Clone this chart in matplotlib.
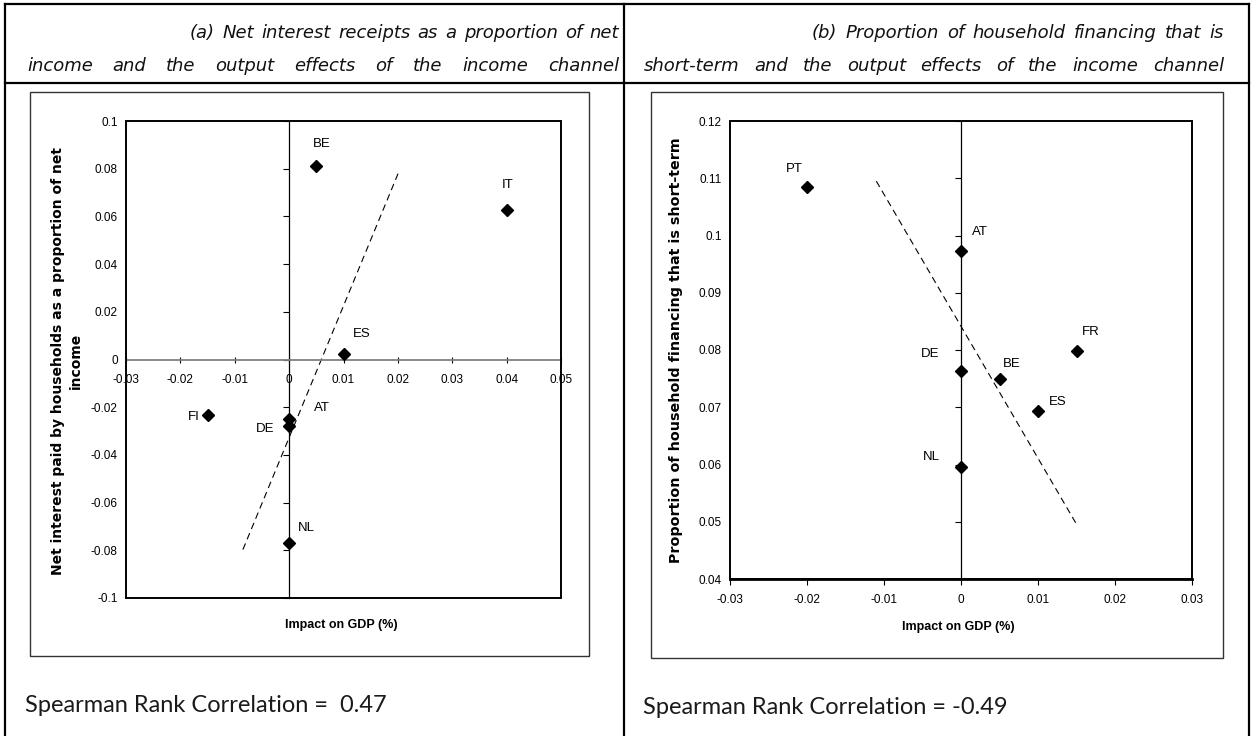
import matplotlib  # nopep8
matplotlib.use('Agg')  # nopep8
import matplotlib.pyplot as plt
from matplotlib.patches import Rectangle
from matplotlib.lines import Line2D

W, H = 1253, 736

# panel (a): net interest receipts vs impact on GDP
countries_a = ['BE', 'IT', 'ES', 'AT', 'DE', 'FI', 'NL']
gdp_a = [0.005, 0.040, 0.010, 0.0, 0.0, -0.015, 0.0]
interest_a = [0.081, 0.0625, 0.0025, -0.025, -0.028, -0.0234, -0.077]
trend_a_x = [-0.0085, 0.0201]
trend_a_y = [-0.0797, 0.0783]
xticks_a = [-0.03, -0.02, -0.01, 0, 0.01, 0.02, 0.03, 0.04, 0.05]
xlabels_a = ['-0.03', '-0.02', '-0.01', '0', '0.01', '0.02', '0.03', '0.04', '0.05']
yticks_a = [-0.1, -0.08, -0.06, -0.04, -0.02, 0, 0.02, 0.04, 0.06, 0.08, 0.1]
ylabels_a = ['-0.1', '-0.08', '-0.06', '-0.04', '-0.02', '0', '0.02', '0.04', '0.06', '0.08', '0.1']

# panel (b): short-term share of household financing vs impact on GDP
countries_b = ['PT', 'AT', 'FR', 'DE', 'BE', 'ES', 'NL']
gdp_b = [-0.020, 0.0, 0.015, 0.0, 0.005, 0.010, 0.0]
shortterm_b = [0.1084, 0.0973, 0.0798, 0.0763, 0.0750, 0.0694, 0.0596]
trend_b_x = [-0.011, 0.0149]
trend_b_y = [0.1095, 0.0498]
xticks_b = [-0.03, -0.02, -0.01, 0, 0.01, 0.02, 0.03]
xlabels_b = ['-0.03', '-0.02', '-0.01', '0', '0.01', '0.02', '0.03']
yticks_b = [0.04, 0.05, 0.06, 0.07, 0.08, 0.09, 0.1, 0.11, 0.12]
ylabels_b = ['0.04', '0.05', '0.06', '0.07', '0.08', '0.09', '0.1', '0.11', '0.12']

# label offsets (points) for the country names
offsets_a = {'BE': (4, 16), 'IT': (0.5, 18.5), 'ES': (13, 14), 'AT': (23.5, 8),
             'DE': (-17, -2), 'FI': (-10, -1.5), 'NL': (12.7, 11)}
offsets_b = {'PT': (-9, 13), 'AT': (13.5, 14), 'FR': (10, 13.5), 'DE': (-22, 12.7),
             'BE': (8.6, 10.8), 'ES': (14.4, 6.5), 'NL': (-21, 7)}

fig = plt.figure(figsize=(12.53, 7.36), dpi=100)


def fy(y):
    return 1 - y / H


def line(x0, y0, x1, y1, lw=1.6, color='black'):
    fig.add_artist(Line2D([x0 / W, x1 / W], [fy(y0), fy(y1)], lw=lw, color=color))


def frame(x0, y0, x1, y1):
    fig.add_artist(Rectangle((x0 / W, fy(y1)), (x1 - x0) / W, (y1 - y0) / H,
                             fill=False, lw=1.0, ec='#333333', transform=fig.transFigure))


def justify(words, x0, x1, y, **kw):
    renderer = fig.canvas.get_renderer()
    texts = [fig.text(0, fy(y), w, va='baseline', **kw) for w in words]
    widths = [t.get_window_extent(renderer).width for t in texts]
    gap = (x1 - x0 - sum(widths)) / (len(words) - 1)
    x = x0
    for t, w in zip(texts, widths):
        t.set_x(x / W)
        x += w + gap


# table
line(5, 4, 1249, 4)
line(5, 4, 5, 740)
line(1249, 4, 1249, 740)
line(624, 4, 624, 740)
line(5, 83, 1249, 83)
frame(30, 92, 589, 656)
frame(651, 92, 1223, 658)

title_kw = dict(family='DejaVu Sans', style='oblique', fontsize=13, color='#111111')
justify('(a) Net interest receipts as a proportion of net'.split(), 190, 619, 38, **title_kw)
justify('income and the output effects of the income channel'.split(), 27, 619, 71, **title_kw)
justify('(b) Proportion of household financing that is'.split(), 812, 1224, 38, **title_kw)
justify('short-term and the output effects of the income channel'.split(), 644, 1224, 71, **title_kw)


def make_axes(left, top, right, bottom):
    return fig.add_axes([left / W, 1 - bottom / H, (right - left) / W, (bottom - top) / H])


def style(ax, xlim, ylim, xticks, xlabels, yticks, ylabels, xaxis_at_zero):
    ax.set_xlim(*xlim)
    ax.set_ylim(*ylim)
    ax.set_xticks(xticks, xlabels)
    ax.set_yticks(yticks, ylabels)
    ax.spines['top'].set_visible(False)
    ax.spines['left'].set_visible(False)
    ax.spines['right'].set_position(('data', 0))
    ax.spines['right'].set_linewidth(0.9)
    ax.add_patch(Rectangle((0, 0), 1, 1, transform=ax.transAxes, fill=False,
                           lw=1.4, ec='black', clip_on=False, zorder=3))
    if xaxis_at_zero:
        ax.spines['bottom'].set_position(('data', 0))
        ax.spines['bottom'].set_color('#808080')
        ax.spines['bottom'].set_linewidth(1.3)
        ax.tick_params(axis='x', direction='inout', length=5, width=0.8, pad=8)
    else:
        ax.spines['bottom'].set_linewidth(2)
        ax.tick_params(axis='x', direction='out', length=4, width=0.8, pad=7)
    ax.tick_params(axis='y', left=False, right=True, labelleft=True, labelright=False,
                   direction='in', length=4, width=0.8, pad=6)
    for lab in ax.get_xticklabels() + ax.get_yticklabels():
        lab.set_family('Liberation Sans')
        lab.set_fontsize(8.5)


def points(ax, names, xs, ys, offsets, tx, ty):
    ax.plot(tx, ty, color='black', lw=0.8, ls=(0, (6, 4)))
    ax.plot(xs, ys, 'D', color='black', ms=6, zorder=4, clip_on=False)
    for name, x, y in zip(names, xs, ys):
        ax.annotate(name, (x, y), xytext=offsets[name], textcoords='offset points',
                    ha='center', va='center', fontsize=9.5, family='Liberation Sans')


ax_a = make_axes(126, 121, 561, 598)
style(ax_a, (-0.03, 0.05), (-0.1, 0.1), xticks_a, xlabels_a, yticks_a, ylabels_a, True)
points(ax_a, countries_a, gdp_a, interest_a, offsets_a, trend_a_x, trend_a_y)

ax_b = make_axes(730, 121, 1192, 579)
style(ax_b, (-0.03, 0.03), (0.04, 0.12), xticks_b, xlabels_b, yticks_b, ylabels_b, False)
points(ax_b, countries_b, gdp_b, shortterm_b, offsets_b, trend_b_x, trend_b_y)

# axis titles
ylab_kw = dict(family='DejaVu Sans', weight='bold', rotation=90, ha='center', va='center')
fig.text(67 / W, fy(361), 'Net interest paid by households as a proportion of net\nincome',
         multialignment='center', linespacing=1.3, fontsize=10, **ylab_kw)
fig.text(676 / W, fy(350), 'Proportion of household financing that is short-term',
         fontsize=10.3, **ylab_kw)
xlab_kw = dict(family='Liberation Sans', weight='bold', fontsize=9, ha='center', va='center')
fig.text(341.5 / W, fy(625), 'Impact on GDP (%)', **xlab_kw)
fig.text(958 / W, fy(627), 'Impact on GDP (%)', **xlab_kw)

note_kw = dict(family='Lato', weight='normal', fontsize=17, va='center', color='#1a1a1a')
fig.text(25 / W, fy(705), 'Spearman Rank Correlation =  0.47', **note_kw)
fig.text(643 / W, fy(708), 'Spearman Rank Correlation = -0.49', **note_kw)

fig.savefig('out.png', dpi=100)
